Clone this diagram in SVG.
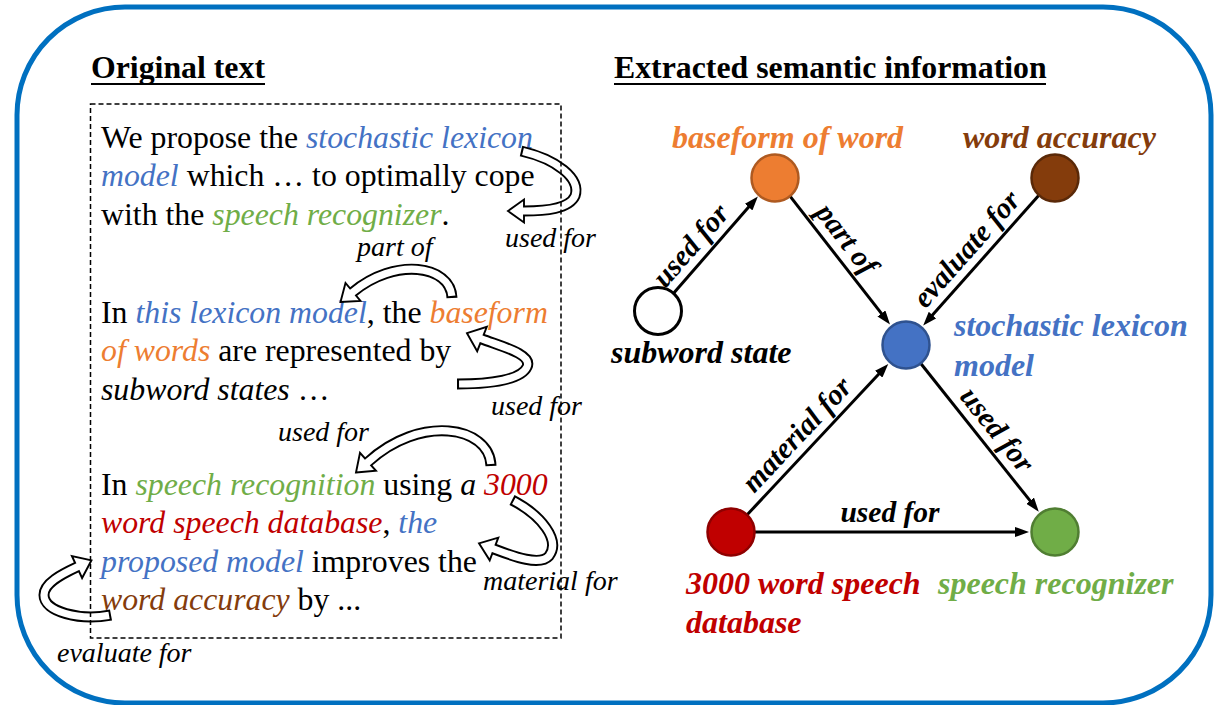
<svg xmlns="http://www.w3.org/2000/svg" width="1214" height="705" viewBox="0 0 1214 705">
  <style>
    text { font-family: "Liberation Serif", "Times New Roman", serif; }
    .h { font-size: 31.8px; font-weight: bold; fill: #000; }
    .body { font-size: 31.8px; fill: #000; }
    .i { font-style: italic; }
    .blue { fill: #4472C4; }
    .green { fill: #70AD47; }
    .orange { fill: #ED7D31; }
    .red { fill: #C00000; }
    .brown { fill: #843C0C; }
    .rel { font-size: 28px; font-style: italic; fill: #000; }
    .nlabel { font-size: 32px; font-weight: bold; font-style: italic; }
    .elabel { font-size: 29.5px; font-weight: bold; font-style: italic; fill: #000; text-anchor: middle; }
    .bandk { fill: none; stroke: #000; stroke-width: 11; }
    .bandw { fill: none; stroke: #fff; stroke-width: 7.2; stroke-dasharray: 0 2 2000; }
    .head { fill: #fff; stroke: #000; stroke-width: 1.9; stroke-linejoin: miter; }
    .edge { fill: none; stroke: #000; stroke-width: 3; marker-end: url(#ah); }
    .node { stroke-width: 2.5; }
  </style>
  <defs>
    <marker id="ah" markerUnits="userSpaceOnUse" markerWidth="14" markerHeight="10" viewBox="0 0 14 10" refX="6" refY="5" orient="auto">
      <path d="M0,0 L14,5 L0,10 z" fill="#000"/>
    </marker>
  </defs>

  <rect x="0" y="0" width="1214" height="705" fill="#fff"/>
  <!-- outer frame -->
  <rect x="17" y="7" width="1194" height="696" rx="108" ry="108" fill="none" stroke="#0070C0" stroke-width="5"/>

  <!-- section headings -->
  <g id="headings">
    <text class="h" x="91" y="77.5">Original text</text>
    <line x1="91" y1="84" x2="265" y2="84" stroke="#000" stroke-width="2.2"/>
    <text class="h" x="614" y="77.5">Extracted semantic information</text>
    <line x1="614" y1="84" x2="1046" y2="84" stroke="#000" stroke-width="2.2"/>
  </g>

  <!-- source passage -->
  <g id="passage">
    <text class="body" x="101" y="147.5">We propose the <tspan class="i blue">stochastic lexicon</tspan></text>
    <text class="body" x="101" y="186"><tspan class="i blue">model</tspan> which … to optimally cope</text>
    <text class="body" x="101" y="224.5">with the <tspan class="i green">speech recognizer</tspan>.</text>

    <text class="body" x="101" y="322.5">In <tspan class="i blue">this lexicon model</tspan>, the <tspan class="i orange">baseform</tspan></text>
    <text class="body" x="101" y="361"><tspan class="i orange">of words</tspan> are represented by</text>
    <text class="body" x="101" y="399.5"><tspan class="i">subword states</tspan> …</text>

    <text class="body" x="101" y="494.5">In <tspan class="i green">speech recognition</tspan> using <tspan class="i">a </tspan><tspan class="i red">3000</tspan></text>
    <text class="body" x="101" y="533"><tspan class="i red">word speech database</tspan>, <tspan class="i blue">the</tspan></text>
    <text class="body" x="101" y="571.5"><tspan class="i blue">proposed model</tspan> improves the</text>
    <text class="body" x="101" y="610"><tspan class="i brown">word accuracy</tspan> by ...</text>
  </g>

  <!-- curved block arrows linking phrases -->
  <g id="curved-arrows">
    <g>
      <path class="bandk" d="M 521 151 C 556 159, 581 178, 575 196 C 569 209, 545 211, 524 211 l -3 0"/>
      <polygon class="head" points="508,211 524,199.5 524,222.5"/>
      <path class="bandw" d="M 521 151 C 556 159, 581 178, 575 196 C 569 209, 545 211, 524 211 l -3 0"/>
    </g>
    <g>
      <path class="bandk" d="M 452 298 C 451 265, 395 257, 353 292 l -2.3 1.9"/>
      <polygon class="head" points="340.5,302 360.5,301 345.5,283"/>
      <path class="bandw" d="M 452 298 C 451 265, 395 257, 353 292 l -2.3 1.9"/>
    </g>
    <g>
      <path class="bandk" d="M 457 384 C 490 384, 521 380, 527 367 C 533 354, 500 346, 482 339 l -2.8 -1.1"/>
      <polygon class="head" points="467,333.2 486.8,326.8 477.2,351.2"/>
      <path class="bandw" d="M 457 384 C 490 384, 521 380, 527 367 C 533 354, 500 346, 482 339 l -2.8 -1.1"/>
    </g>
    <g>
      <path class="bandk" d="M 491 466 C 490 426, 420 414, 368 462 l -2.2 2"/>
      <polygon class="head" points="356,472.5 376,470.8 360,452.8"/>
      <path class="bandw" d="M 491 466 C 490 426, 420 414, 368 462 l -2.2 2"/>
    </g>
    <g>
      <path class="bandk" d="M 512 500 C 541 515, 561 540, 549 556 C 540 566, 515 557, 494 549 l -2.8 -1.1"/>
      <polygon class="head" points="479,543.3 498.3,537.7 489.7,560.3"/>
      <path class="bandw" d="M 512 500 C 541 515, 561 540, 549 556 C 540 566, 515 557, 494 549 l -2.8 -1.1"/>
    </g>
    <g>
      <path class="bandk" d="M 111 615 C 80 621, 44 612, 44 595 C 44 583, 62 574, 77 567 l 2.7 -1.3"/>
      <polygon class="head" points="91.5,560.3 82.1,578 71.9,556"/>
      <path class="bandw" d="M 111 615 C 80 621, 44 612, 44 595 C 44 583, 62 574, 77 567 l 2.7 -1.3"/>
    </g>
  </g>

  <!-- dashed frame round the passage -->
  <rect x="90.5" y="104" width="470.5" height="534" fill="none" stroke="#000" stroke-width="1.5" stroke-dasharray="5 3"/>

  <!-- relation names on the curved arrows -->
  <g id="relation-labels">
    <text class="rel" x="505" y="247">used for</text>
    <text class="rel" x="357" y="256">part of</text>
    <text class="rel" x="491" y="415">used for</text>
    <text class="rel" x="278" y="441">used for</text>
    <text class="rel" x="483" y="590">material for</text>
    <text class="rel" x="57" y="662">evaluate for</text>
  </g>

  <!-- graph connectors -->
  <g id="connectors">
    <line class="edge" x1="673.8" y1="292.9" x2="752.6" y2="202.6"/>
    <line class="edge" x1="789.8" y1="195.9" x2="885.1" y2="318.2"/>
    <line class="edge" x1="1039.1" y1="195" x2="928.5" y2="319.6"/>
    <line class="edge" x1="747.4" y1="514.5" x2="882.8" y2="369.8"/>
    <line class="edge" x1="921" y1="363.8" x2="1033.8" y2="505.4"/>
    <line class="edge" x1="755" y1="532" x2="1021" y2="532"/>
    <text class="elabel" transform="translate(691.1 245.8) rotate(-48.85)" y="9">used for</text>
    <text class="elabel" transform="translate(846.4 239.3) rotate(52.1)" y="9">part of</text>
    <text class="elabel" transform="translate(966.8 249.3) rotate(-48.4)" y="9">evaluate for</text>
    <text class="elabel" transform="translate(797.2 435) rotate(-46.9)" y="9">material for</text>
    <text class="elabel" transform="translate(996.8 430) rotate(51.45)" y="9">used for</text>
    <text class="elabel" x="890" y="522">used for</text>
  </g>

  <!-- graph nodes -->
  <g id="node-baseform">
    <circle class="node" cx="775" cy="178" r="23.5" fill="#ED7D31" stroke="#AE5A21"/>
    <text class="nlabel orange" x="672" y="147.5">baseform of word</text>
  </g>
  <g id="node-accuracy">
    <circle class="node" cx="1055" cy="178" r="23.5" fill="#843C0C" stroke="#5A2908"/>
    <text class="nlabel brown" x="963" y="147.5">word accuracy</text>
  </g>
  <g id="node-subword">
    <circle cx="658" cy="311" r="23.5" fill="#fff" stroke="#000" stroke-width="3"/>
    <text class="nlabel" x="611" y="363" fill="#000">subword state</text>
  </g>
  <g id="node-lexicon">
    <circle class="node" cx="906" cy="345" r="23.5" fill="#4472C4" stroke="#2F528F"/>
    <text class="nlabel blue" x="954" y="336">stochastic lexicon</text>
    <text class="nlabel blue" x="954" y="375.5">model</text>
  </g>
  <g id="node-database">
    <circle class="node" cx="731" cy="532" r="23.5" fill="#C00000" stroke="#8F0000"/>
    <text class="nlabel red" x="686" y="593.5">3000 word speech</text>
    <text class="nlabel red" x="686" y="633">database</text>
  </g>
  <g id="node-recognizer">
    <circle class="node" cx="1055" cy="532" r="23.5" fill="#70AD47" stroke="#507E32"/>
    <text class="nlabel green" x="938" y="593.5">speech recognizer</text>
  </g>
</svg>
